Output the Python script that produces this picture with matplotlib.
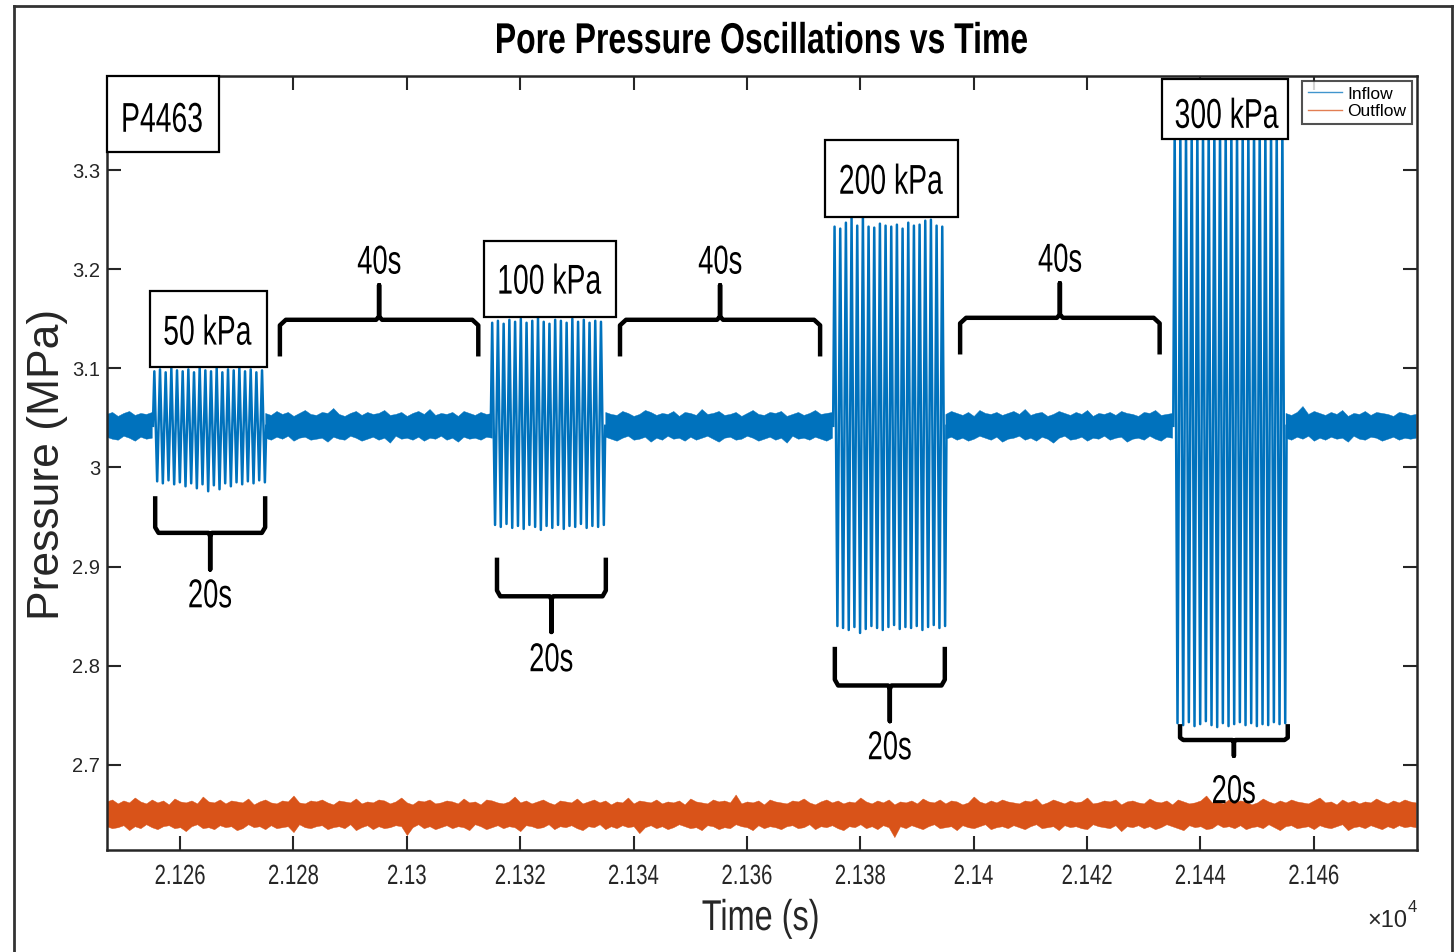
import matplotlib
matplotlib.use("Agg")
import matplotlib.pyplot as plt
import numpy as np
from matplotlib.patches import Rectangle, PathPatch
from matplotlib.lines import Line2D
from matplotlib.textpath import TextPath
from matplotlib.font_manager import FontProperties
from matplotlib.transforms import Affine2D, ScaledTranslation

# ---------------- data ----------------
seg_start = [21255.2, 21314.8, 21375.2, 21435.2]
seg_end = [21275.2, 21335.0, 21395.2, 21455.2]
seg_labels = ["50 kPa", "100 kPa", "200 kPa", "300 kPa"]

peaks_50 = [3.097, 3.099, 3.096, 3.100, 3.098, 3.097, 3.099, 3.096, 3.101, 3.098,
            3.097, 3.100, 3.096, 3.099, 3.098, 3.101, 3.097, 3.099, 3.096, 3.098]
troughs_50 = [2.986, 2.984, 2.987, 2.983, 2.985, 2.981, 2.984, 2.979, 2.983, 2.976,
              2.982, 2.978, 2.984, 2.981, 2.985, 2.983, 2.986, 2.984, 2.987, 2.985]
peaks_100 = [3.146, 3.148, 3.145, 3.149, 3.147, 3.150, 3.146, 3.148, 3.151, 3.147,
             3.145, 3.149, 3.148, 3.146, 3.150, 3.147, 3.149, 3.146, 3.148, 3.147]
troughs_100 = [2.942, 2.940, 2.943, 2.939, 2.941, 2.938, 2.942, 2.940, 2.937, 2.941,
               2.939, 2.942, 2.938, 2.941, 2.940, 2.943, 2.939, 2.941, 2.940, 2.942]
peaks_200 = [3.243, 3.241, 3.247, 3.252, 3.244, 3.254, 3.243, 3.242, 3.246, 3.244,
             3.243, 3.245, 3.241, 3.247, 3.244, 3.245, 3.249, 3.250, 3.244, 3.243]
troughs_200 = [2.840, 2.838, 2.836, 2.839, 2.833, 2.837, 2.840, 2.838, 2.836, 2.839,
               2.841, 2.837, 2.839, 2.838, 2.840, 2.836, 2.839, 2.841, 2.838, 2.840]
peaks_300 = [3.342, 3.340, 3.343, 3.341, 3.344, 3.342, 3.346, 3.343, 3.344, 3.342,
             3.345, 3.343, 3.342, 3.344, 3.347, 3.343, 3.342, 3.344, 3.343, 3.345]
troughs_300 = [2.742, 2.740, 2.743, 2.739, 2.741, 2.744, 2.740, 2.738, 2.742, 2.739,
               2.741, 2.743, 2.740, 2.742, 2.739, 2.741, 2.740, 2.743, 2.741, 2.742]

inflow_level = 3.042
outflow_level = 2.650

# inflow baseline gaps (no oscillation), one sample per second
gap_start = [21247, 21275, 21335, 21395, 21455]
gap_end = [21255, 21315, 21375, 21435, 21478]
# envelope deviations from the level, in kPa
gap_up = [
    [12, 14, 10, 13, 15, 11, 13, 12, 14],
    [13, 11, 15, 12, 14, 10, 13, 16, 12, 11, 14, 13, 18, 12, 10, 13, 15, 11, 14, 12, 13,
     16, 11, 12, 14, 10, 13, 15, 12, 17, 11, 13, 12, 14, 10, 15, 13, 11, 14, 12, 13],
    [14, 12, 11, 15, 13, 10, 12, 16, 14, 11, 13, 12, 15, 10, 14, 13, 11, 17, 12, 13, 15,
     11, 12, 14, 10, 13, 16, 12, 11, 14, 13, 15, 10, 12, 14, 11, 13, 16, 12, 13, 14],
    [12, 15, 13, 11, 14, 10, 16, 13, 12, 14, 11, 13, 15, 12, 17, 11, 13, 14, 10, 12, 15,
     13, 11, 14, 12, 16, 10, 13, 12, 14, 11, 15, 13, 12, 10, 14, 13, 16, 11, 12, 13],
    [13, 11, 14, 20, 12, 15, 13, 11, 14, 12, 16, 10, 13, 12, 15, 11, 14, 13, 12, 10,
     14, 13, 11, 12],
]
gap_lo = [
    [11, 13, 14, 10, 12, 15, 11, 13, 12],
    [12, 14, 11, 13, 10, 15, 12, 11, 14, 13, 12, 16, 11, 13, 14, 10, 12, 15, 13, 11, 14,
     12, 17, 10, 13, 12, 14, 11, 15, 12, 13, 10, 14, 12, 16, 11, 13, 12, 14, 11, 12],
    [11, 13, 15, 12, 10, 14, 13, 11, 16, 12, 14, 10, 13, 12, 15, 11, 14, 12, 10, 13, 16,
     12, 11, 14, 13, 10, 12, 15, 13, 11, 14, 12, 17, 10, 13, 12, 14, 11, 13, 15, 12],
    [13, 11, 14, 12, 15, 13, 10, 12, 14, 11, 16, 13, 12, 10, 14, 12, 15, 11, 13, 17, 12,
     10, 14, 13, 11, 15, 12, 13, 10, 14, 12, 11, 16, 13, 12, 14, 10, 13, 15, 11, 12],
    [12, 14, 11, 13, 10, 15, 12, 14, 11, 13, 12, 16, 10, 13, 14, 11, 12, 15, 13, 11,
     14, 12, 13, 12],
]

# outflow trace envelope deviations (kPa), one sample per second, 21247..21478
out_start, out_end = 21247, 21478
out_up = [13, 15, 11, 14, 12, 17, 13, 11, 15, 12, 14, 10, 16, 13, 12, 14, 11, 18, 13, 12,
          15, 11, 14, 13, 12, 16, 10, 13, 15, 12, 11, 14, 13, 19, 12, 11, 14, 13, 15, 12,
          10, 14, 13, 12, 16, 11, 13, 12, 15, 14, 11, 13, 17, 12, 10, 14, 13, 15, 11, 12,
          14, 13, 11, 16, 12, 13, 10, 15, 14, 12, 11, 13, 18, 12, 14, 11, 13, 15, 12, 10,
          14, 13, 12, 16, 11, 13, 15, 12, 14, 10, 13, 12, 17, 11, 14, 13, 12, 15, 11, 13,
          12, 14, 10, 16, 13, 12, 11, 15, 13, 14, 12, 20, 11, 13, 12, 14, 10, 15, 13, 12,
          11, 14, 13, 16, 12, 10, 13, 15, 12, 14, 11, 13, 12, 17, 13, 11, 14, 12, 15, 10,
          13, 12, 14, 11, 16, 13, 12, 15, 11, 14, 13, 10, 12, 18, 13, 11, 14, 12, 15, 13,
          12, 11, 14, 13, 16, 10, 12, 15, 13, 11, 14, 12, 13, 17, 11, 12, 14, 13, 15, 10,
          13, 14, 12, 11, 16, 13, 12, 14, 10, 15, 13, 11, 12, 14, 19, 12, 13, 11, 15, 12,
          14, 13, 10, 12, 16, 13, 11, 14, 12, 15, 13, 12, 11, 14, 17, 12, 13, 10, 15, 12,
          14, 11, 13, 12, 16, 13, 11, 14, 12, 15, 13, 12]
out_lo = [12, 14, 13, 11, 16, 12, 14, 10, 13, 15, 12, 11, 14, 13, 17, 12, 10, 14, 13, 15,
          11, 13, 12, 16, 14, 10, 13, 12, 15, 11, 14, 13, 12, 18, 10, 13, 14, 12, 11, 15,
          13, 12, 14, 10, 16, 13, 11, 15, 12, 14, 13, 11, 12, 21, 13, 10, 14, 12, 15, 13,
          11, 14, 12, 13, 16, 10, 12, 15, 13, 11, 14, 12, 13, 17, 11, 12, 14, 13, 10, 15,
          12, 13, 11, 14, 16, 12, 13, 10, 15, 12, 14, 11, 13, 12, 19, 13, 11, 14, 12, 15,
          13, 10, 12, 14, 13, 16, 11, 12, 15, 13, 14, 10, 12, 13, 16, 11, 14, 12, 13, 15,
          12, 11, 14, 13, 10, 15, 12, 13, 11, 14, 16, 12, 13, 10, 14, 12, 15, 11, 13, 23,
          12, 14, 11, 13, 15, 12, 10, 14, 13, 12, 16, 11, 13, 14, 12, 10, 15, 13, 12, 14,
          11, 13, 15, 12, 10, 14, 13, 12, 16, 11, 13, 12, 14, 15, 10, 12, 13, 14, 11, 17,
          12, 13, 11, 14, 12, 15, 13, 10, 12, 14, 16, 11, 13, 12, 15, 14, 10, 13, 12, 14,
          11, 15, 13, 12, 14, 10, 13, 16, 12, 11, 14, 13, 12, 15, 11, 13, 14, 12, 10, 16,
          13, 12, 14, 11, 13, 15, 12, 14, 11, 13, 12, 13]

x_ticks = [21260, 21280, 21300, 21320, 21340, 21360, 21380, 21400, 21420, 21440, 21460]
x_tick_labels = ["2.126", "2.128", "2.13", "2.132", "2.134", "2.136", "2.138",
                 "2.14", "2.142", "2.144", "2.146"]
y_ticks = [2.7, 2.8, 2.9, 3.0, 3.1, 3.2, 3.3]
y_tick_labels = ["2.7", "2.8", "2.9", "3", "3.1", "3.2", "3.3"]

# ---------------- setup ----------------
FONT = "Liberation Sans"
plt.rcParams["font.family"] = [FONT, "DejaVu Sans"]
C_IN = "#0072BD"
C_OUT = "#D95319"
W, H = 1454, 952

fig = plt.figure(figsize=(W / 100, H / 100), dpi=100)
ax = fig.add_axes([107 / W, 1 - 850 / H, (1417 - 107) / W, (850 - 76) / H])
PIX = Affine2D().scale(1, -1).translate(0, H)   # pixel coords measured from top-left


def ptext(s, x, y, base, size, sx=1.0, width=None, ha="center", dx=0, dy=0,
          weight="normal", color="black", zorder=6):
    """Text drawn as a path, horizontally scaled (narrow look)."""
    fp = FontProperties(family=FONT, weight=weight)
    tp = TextPath((0, 0), s, size=size, prop=fp)
    ext = tp.get_extents()
    px = fig.dpi / 72.0
    if width is not None:
        sx = width / (ext.width * px)
    if ha == "center":
        x0 = (ext.x0 + ext.x1) / 2
    elif ha == "right":
        x0 = ext.x1
    else:
        x0 = ext.x0
    tr = (Affine2D().translate(-x0, 0).scale(sx * px, px).translate(dx, dy)
          + ScaledTranslation(x, y, base))
    fig.add_artist(PathPatch(tp, transform=tr, facecolor=color, edgecolor="none",
                             zorder=zorder))
    return sx


# ----- inflow baseline gaps -----
for gs, ge, up, lo in zip(gap_start, gap_end, gap_up, gap_lo):
    t = np.linspace(gs, ge, len(up))
    ax.fill_between(t, inflow_level - np.array(lo) / 1000.0,
                    inflow_level + np.array(up) / 1000.0,
                    facecolor=C_IN, edgecolor=C_IN, lw=0.3, zorder=2)

# ----- inflow oscillation bursts -----
peaks_all = [peaks_50, peaks_100, peaks_200, peaks_300]
troughs_all = [troughs_50, troughs_100, troughs_200, troughs_300]
first = True
for s, e, pk, tr in zip(seg_start, seg_end, peaks_all, troughs_all):
    n = len(pk)
    T = (e - s) / n
    ts, vs = [s], [inflow_level]
    for k in range(n):
        ts += [s + (k + 0.25) * T, s + (k + 0.75) * T]
        vs += [pk[k], tr[k]]
    ts.append(e)
    vs.append(inflow_level)
    ax.plot(ts, vs, color=C_IN, lw=1.8, zorder=2, label="Inflow" if first else None)
    first = False

# ----- outflow -----
t_out = np.linspace(out_start, out_end, len(out_up))
ax.fill_between(t_out, outflow_level - np.array(out_lo) / 1000.0,
                outflow_level + np.array(out_up) / 1000.0,
                facecolor=C_OUT, edgecolor=C_OUT, lw=0.3, zorder=2)
ax.plot([], [], color=C_OUT, lw=1.0, label="Outflow")

ax.set_xlim(21247.1, 21478.2)
ax.set_ylim(2.614, 3.395)
ax.set_xticks(x_ticks)
ax.set_xticklabels([""] * len(x_ticks))
ax.set_yticks(y_ticks)
ax.set_yticklabels(y_tick_labels)
ax.tick_params(direction="in", length=10, width=1.5, top=True, right=True,
               colors="#262626")
ax.tick_params(axis="y", labelsize=14.5, pad=5)
for sp in ax.spines.values():
    sp.set_linewidth(1.8)
    sp.set_color("#262626")

# narrow x tick labels
sx_tick = None
for tv, tl in zip(x_ticks, x_tick_labels):
    if sx_tick is None:
        sx_tick = ptext(tl, tv, 0, ax.get_xaxis_transform(), 20, width=49, dy=-34,
                        color="#262626")
    else:
        ptext(tl, tv, 0, ax.get_xaxis_transform(), 20, sx=sx_tick, dy=-34,
              color="#262626")

leg = ax.legend(loc="upper right", fontsize=12.5, handlelength=2.0, handletextpad=0.3,
                borderaxespad=0.3, borderpad=0.3, labelspacing=0.12, fancybox=False)
leg.get_frame().set_edgecolor("#262626")
leg.get_frame().set_linewidth(1.5)
for h in leg.get_lines():
    h.set_linewidth(1.0)
    h.set_alpha(0.75)

# ----- annotation boxes -----
SX_ANN = 0.68


def box(x0, x1, y0, y1, text, tx, ty):
    ax.add_patch(Rectangle((x0, y0), x1 - x0, y1 - y0, facecolor="white",
                           edgecolor="black", lw=1.6, zorder=4, clip_on=False))
    ptext(text, tx, ty, ax.transData, 30, sx=SX_ANN)


box(21247.1, 21266.8, 3.318, 3.395, "P4463", 21256.9, 3.3387)
box(21254.7, 21275.3, 3.101, 3.178, seg_labels[0], 21264.9, 3.1240)
box(21313.6, 21336.9, 3.152, 3.229, seg_labels[1], 21325.3, 3.1754)
box(21373.8, 21397.2, 3.253, 3.330, seg_labels[2], 21385.5, 3.2762)
box(21433.2, 21455.4, 3.331, 3.392, seg_labels[3], 21444.7, 3.3427)


# ----- brackets -----
def bracket(x0, x1, y_end, y_bar, y_tip, label, y_base):
    xm = (x0 + x1) / 2
    r = (x1 - x0) * 0.03
    sgn = np.sign(y_bar - y_end)
    dy = abs(y_bar - y_end) * 0.15
    xs = [x0, x0, x0 + r, xm - r * 0.5, xm, xm, xm, xm + r * 0.5, x1 - r, x1, x1]
    ys = [y_end, y_bar - sgn * dy, y_bar, y_bar, y_bar + sgn * dy * 0.6, y_tip,
          y_bar + sgn * dy * 0.6, y_bar, y_bar, y_bar - sgn * dy, y_end]
    ax.plot(xs, ys, color="black", lw=3.2, solid_joinstyle="round",
            solid_capstyle="butt", zorder=5, clip_on=False)
    ptext(label, xm, y_base, ax.transData, 29, sx=SX_ANN)


bracket(21277.6, 21312.6, 3.112, 3.149, 3.184, "40s", 3.1956)
bracket(21337.6, 21372.9, 3.112, 3.149, 3.184, "40s", 3.1956)
bracket(21397.6, 21432.8, 3.114, 3.151, 3.186, "40s", 3.1976)

bracket(21255.6, 21275.0, 2.971, 2.934, 2.897, "20s", 2.8589)
bracket(21315.9, 21335.1, 2.909, 2.870, 2.834, "20s", 2.7944)
bracket(21375.5, 21394.9, 2.819, 2.780, 2.744, "20s", 2.7056)
bracket(21436.4, 21455.4, 2.741, 2.725, 2.709, "20s", 2.6613)

# ----- figure texts -----
ptext("Pore Pressure Oscillations vs Time", 762, 53, PIX, 31, width=530,
      weight="bold", color="black")
ptext("Time (s)", 760, 930, PIX, 31, width=115, color="#262626")
fig.text(47 / W, 1 - 464 / H, "Pressure (MPa)", ha="center", va="center",
         rotation=90, fontsize=32, color="#262626")
fig.text(1407 / W, 1 - 921 / H, "\u00d710", ha="right", va="center",
         fontsize=17, color="#262626")
fig.text(1408 / W, 1 - 907 / H, "4", ha="left", va="center",
         fontsize=12, color="#262626")

# outer frame
for (xa, ya, xb, yb) in [(14, 952, 14, 6), (14, 6, 1452, 6), (1452, 6, 1452, 952)]:
    fig.add_artist(Line2D([xa / W, xb / W], [1 - ya / H, 1 - yb / H],
                          color="#333333", lw=2.0, transform=fig.transFigure))

fig.savefig("out.png", dpi=100)
